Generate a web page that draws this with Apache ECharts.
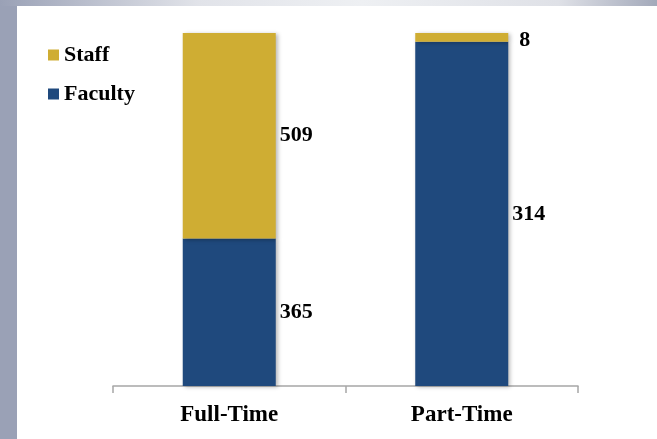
<!DOCTYPE html>
<html>
<head>
<meta charset="utf-8">
<script src="https://cdn.jsdelivr.net/npm/echarts@6/dist/echarts.min.js"></script>
<style>
html,body{margin:0;padding:0;background:#fff;}
#chart{width:657px;height:439px;}
</style>
</head>
<body>
<div id="chart"></div>
<script>
var categories = ['Full-Time', 'Part-Time'];
var facultyValues = [365, 314];
var staffValues = [509, 8];
var seriesNames = ['Faculty', 'Staff'];

var FONT = '"Liberation Serif", "Times New Roman", serif';
var totals = categories.map(function (c, i) { return facultyValues[i] + staffValues[i]; });

function buildData(vals, smallOffset) {
  return vals.map(function (v, i) {
    var item = { value: v / totals[i] * 100, raw: v };
    if (smallOffset && v / totals[i] < 0.05) {
      item.label = { position: 'right', distance: 11, offset: [0, 3] };
    }
    return item;
  });
}

var shadow = { shadowColor: 'rgba(0,0,0,0.28)', shadowBlur: 4, shadowOffsetX: 2, shadowOffsetY: 1 };

var labelStyle = {
  show: true,
  position: 'right',
  distance: 4,
  color: '#000',
  fontFamily: FONT,
  fontWeight: 'bold',
  fontSize: 22,
  formatter: function (p) { return p.data.raw; }
};

var chart = echarts.init(document.getElementById('chart'));
chart.setOption({
  animation: false,
  backgroundColor: '#fff',
  graphic: [
    { type: 'rect', left: 0, top: 0, shape: { width: 17, height: 439 }, style: { fill: '#9aa1b6' }, z: 100 },
    { type: 'rect', left: 0, top: 0, shape: { width: 657, height: 6 },
      style: { fill: new echarts.graphic.LinearGradient(0, 0, 1, 0, [
        { offset: 0, color: '#9aa1b6' },
        { offset: 0.3, color: '#e1e3e9' },
        { offset: 0.55, color: '#eef0f3' },
        { offset: 0.85, color: '#dfe1e7' },
        { offset: 1, color: '#a3a9ba' }
      ]) }, z: 100 }
  ],
  legend: {
    data: ['Staff', 'Faculty'],
    orient: 'vertical',
    left: 48,
    top: 44,
    padding: 0,
    icon: 'rect',
    itemWidth: 11,
    itemHeight: 11,
    itemGap: 17,
    textStyle: { fontFamily: FONT, fontWeight: 'bold', fontSize: 22, color: '#000' }
  },
  grid: { left: 113, right: 79, top: 33, bottom: 53, containLabel: false },
  xAxis: {
    type: 'category',
    data: categories,
    axisLine: { lineStyle: { color: '#a6a6a6', width: 1.5 } },
    axisTick: { show: true, length: 7, lineStyle: { color: '#a6a6a6', width: 1.5 } },
    axisLabel: { margin: 18, color: '#000', fontFamily: FONT, fontWeight: 'bold', fontSize: 23 }
  },
  yAxis: { type: 'value', min: 0, max: 100, show: false, splitLine: { show: false } },
  series: [
    { name: 'Faculty', type: 'bar', stack: 'total', barWidth: 93,
      itemStyle: Object.assign({ color: '#1f497d' }, shadow),
      label: labelStyle,
      data: buildData(facultyValues, false) },
    { name: 'Staff', type: 'bar', stack: 'total', barWidth: 93,
      itemStyle: Object.assign({ color: '#cfad33' }, shadow),
      label: labelStyle,
      data: buildData(staffValues, true) }
  ]
});
</script>
</body>
</html>
